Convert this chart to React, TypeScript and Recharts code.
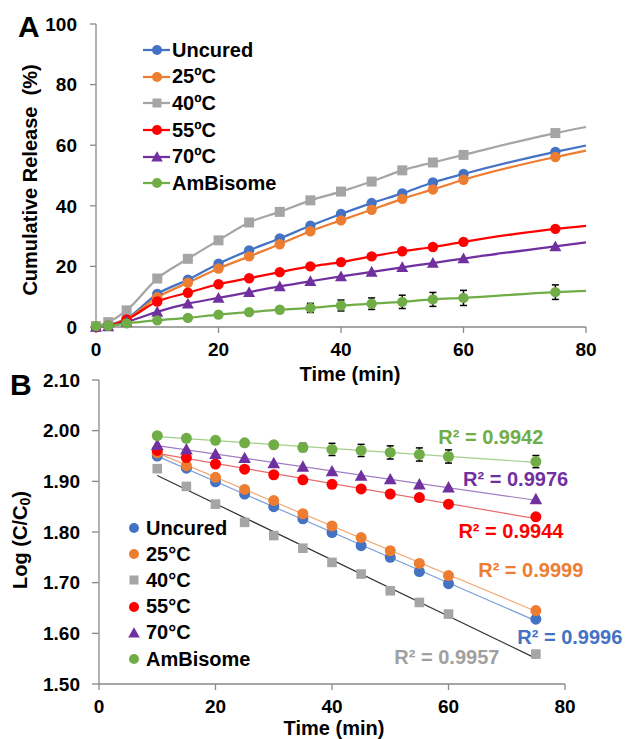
import React from "react";
import {
  ComposedChart,
  Line,
  Scatter,
  XAxis,
  YAxis,
  ErrorBar,
  Legend,
  Label,
  ReferenceLine,
  ReferenceDot,
} from "recharts";

const FONT = "'Liberation Sans', Arial, sans-serif";

// ---- panel A: cumulative release (%) ----
const timesA = [0, 2, 5, 10, 15, 20, 25, 30, 35, 40, 45, 50, 55, 60, 75, 80];
const uncuredA = [0, 0.6, 2.8, 10.9, 15.6, 20.9, 25.3, 29.2, 33.4, 37.3, 40.9, 44.1, 47.7, 50.5, 57.8, 59.9];
const c25A = [0, 0.5, 2.6, 9.8, 14.6, 19.3, 23.3, 27.3, 31.6, 35.2, 38.7, 42.3, 45.4, 48.6, 56.1, 58.2];
const c40A = [0.3, 1.6, 5.5, 16.0, 22.5, 28.6, 34.5, 38.0, 41.8, 44.7, 48.0, 51.7, 54.3, 56.8, 64.0, 66.0];
const c55A = [0, 0.4, 2.5, 8.4, 11.3, 14.1, 16.1, 18.1, 20.0, 21.4, 23.3, 25.0, 26.4, 28.1, 32.4, 33.4];
const c70A = [0, 0.2, 1.7, 5.0, 7.7, 9.6, 11.5, 13.4, 15.1, 16.7, 18.2, 19.7, 21.1, 22.6, 26.6, 27.9];
const ambisomeA = [0.3, 0.4, 1.2, 2.2, 3.0, 4.1, 4.9, 5.7, 6.3, 7.1, 7.7, 8.3, 9.1, 9.6, 11.5, 11.9];
const ambisomeErrA = [0.3, 0.3, 0.4, 0.5, 0.6, 0.7, 0.8, 1.0, 1.5, 1.8, 1.9, 2.2, 2.3, 2.5, 2.4, null];
const xTicksA = [0, 20, 40, 60, 80];
const yTicksA = [0, 20, 40, 60, 80, 100];

// ---- panel B: log (C/C0) ----
const timesB = [10, 15, 20, 25, 30, 35, 40, 45, 50, 55, 60, 75];
const uncuredB = [1.950, 1.926, 1.899, 1.875, 1.850, 1.826, 1.799, 1.773, 1.750, 1.722, 1.698, 1.628];
const c25B = [1.956, 1.931, 1.908, 1.884, 1.862, 1.836, 1.812, 1.789, 1.763, 1.738, 1.714, 1.645];
const c40B = [1.925, 1.890, 1.855, 1.819, 1.793, 1.768, 1.740, 1.717, 1.684, 1.661, 1.638, 1.559];
const c55B = [1.961, 1.947, 1.934, 1.924, 1.913, 1.903, 1.894, 1.885, 1.875, 1.868, 1.855, 1.830];
const c70B = [1.972, 1.963, 1.954, 1.946, 1.936, 1.929, 1.920, 1.911, 1.904, 1.894, 1.888, 1.865];
const ambisomeB = [1.990, 1.985, 1.981, 1.976, 1.972, 1.967, 1.963, 1.961, 1.957, 1.953, 1.949, 1.939];
const ambisomeErrB = [0.003, 0.003, 0.003, 0.004, 0.004, 0.008, 0.012, 0.012, 0.013, 0.013, 0.013, 0.012];
const r2B = ["R² = 0.9996", "R² = 0.9999", "R² = 0.9957", "R² = 0.9944", "R² = 0.9976", "R² = 0.9942"];
// where each R² text starts (time, log value)
const r2PosX = [71.8, 65.1, 50.7, 61.7, 62.5, 58.25];
const r2PosY = [1.593, 1.725, 1.554, 1.802, 1.905, 1.988];
const xTicksB = [0, 20, 40, 60, 80];
const yTicksB = [1.5, 1.6, 1.7, 1.8, 1.9, 2.0, 2.1];

type Shape = "circle" | "square" | "triangle";

const seriesA = [
  { key: "uncured", name: "Uncured", color: "#4472C4", shape: "circle" as Shape, values: uncuredA },
  { key: "c25", name: "25ºC", color: "#ED7D31", shape: "circle" as Shape, values: c25A },
  { key: "c40", name: "40ºC", color: "#A5A5A5", shape: "square" as Shape, values: c40A },
  { key: "c55", name: "55ºC", color: "#FF0000", shape: "circle" as Shape, values: c55A },
  { key: "c70", name: "70ºC", color: "#7030A0", shape: "triangle" as Shape, values: c70A },
  { key: "amb", name: "AmBisome", color: "#70AD47", shape: "circle" as Shape, values: ambisomeA },
];

const seriesB = [
  { key: "uncured", name: "Uncured", color: "#4472C4", text: "#4472C4", trend: "#7fa0dc", shape: "circle" as Shape, values: uncuredB },
  { key: "c25", name: "25°C", color: "#ED7D31", text: "#ED7D31", trend: "#f2a872", shape: "circle" as Shape, values: c25B },
  { key: "c40", name: "40°C", color: "#A5A5A5", text: "#A0A0A0", trend: "#333333", shape: "square" as Shape, values: c40B },
  { key: "c55", name: "55°C", color: "#FF0000", text: "#FF0000", trend: "#e86a6a", shape: "circle" as Shape, values: c55B },
  { key: "c70", name: "70°C", color: "#7030A0", text: "#7030A0", trend: "#a07cc4", shape: "triangle" as Shape, values: c70B },
  { key: "amb", name: "AmBisome", color: "#70AD47", text: "#70AD47", trend: "#a3cf88", shape: "circle" as Shape, values: ambisomeB },
];

const rowsA = timesA.map((t, i) => {
  const row: Record<string, number | null> = { t, ambErr: ambisomeErrA[i] };
  seriesA.forEach((s) => (row[s.key] = s.values[i]));
  return row;
});

// least squares fit, like the Excel trendline
function fit(xs: number[], ys: number[]) {
  const n = xs.length;
  const mx = xs.reduce((a, b) => a + b, 0) / n;
  const my = ys.reduce((a, b) => a + b, 0) / n;
  let sxy = 0;
  let sxx = 0;
  xs.forEach((x, i) => {
    sxy += (x - mx) * (ys[i] - my);
    sxx += (x - mx) * (x - mx);
  });
  const slope = sxy / sxx;
  return (x: number) => my + slope * (x - mx);
}

function Marker({ shape, cx, cy, size, color }: { shape: Shape; cx: number; cy: number; size: number; color: string }) {
  if (shape === "square") {
    return <rect x={cx - size} y={cy - size} width={size * 2} height={size * 2} fill={color} />;
  }
  if (shape === "triangle") {
    const h = size * 1.15;
    return <polygon points={`${cx},${cy - h} ${cx - h},${cy + h * 0.8} ${cx + h},${cy + h * 0.8}`} fill={color} />;
  }
  return <circle cx={cx} cy={cy} r={size} fill={color} />;
}

const dotA = (shape: Shape, color: string) => (props: any) => {
  const { cx, cy, payload, index } = props;
  if (cx == null || cy == null || payload.t > 75) return <g key={`d-${index}`} />;
  return (
    <g key={`d-${index}`}>
      <Marker shape={shape} cx={cx} cy={cy} size={shape === "square" ? 5 : 5.2} color={color} />
    </g>
  );
};

const shapeB = (shape: Shape, color: string) => (props: any) => {
  const { cx, cy } = props;
  if (cx == null || cy == null) return <g />;
  return <Marker shape={shape} cx={cx} cy={cy} size={shape === "square" ? 4.8 : 5.5} color={color} />;
};

const tickStyle = { fill: "#000", fontSize: 19, fontWeight: 700, fontFamily: FONT };
const axisLine = { stroke: "#898989", strokeWidth: 1.3 };
const titleStyle = { fontSize: 20, fontWeight: 700, fontFamily: FONT, fill: "#000" };

const legendA = () => (
  <div style={{ fontFamily: FONT, fontWeight: 700, fontSize: 20, color: "#000" }}>
    {seriesA.map((s) => (
      <div key={s.key} style={{ display: "flex", alignItems: "center", height: 26.6 }}>
        <svg width={29} height={20}>
          <line x1={0} y1={10} x2={27} y2={10} stroke={s.color} strokeWidth={2.25} />
          <Marker shape={s.shape} cx={14} cy={10} size={s.shape === "square" ? 4.5 : 5} color={s.color} />
        </svg>
        <span>{s.name}</span>
      </div>
    ))}
  </div>
);

const legendB = () => (
  <div style={{ fontFamily: FONT, fontWeight: 700, fontSize: 20, color: "#000" }}>
    {seriesB.map((s) => (
      <div key={s.key} style={{ display: "flex", alignItems: "center", height: 26.2 }}>
        <svg width={12} height={20} style={{ marginRight: 6 }}>
          <Marker shape={s.shape} cx={6} cy={10} size={s.shape === "square" ? 4.5 : 5} color={s.color} />
        </svg>
        <span>{s.name}</span>
      </div>
    ))}
  </div>
);

function PanelA() {
  return (
    <ComposedChart width={629} height={385} data={rowsA} margin={{ top: 24, right: 43, bottom: 0, left: 0 }}>
      <XAxis
        dataKey="t"
        type="number"
        domain={[0, 80]}
        ticks={xTicksA}
        height={58}
        tick={tickStyle}
        tickSize={6}
        tickMargin={10}
        axisLine={axisLine}
        tickLine={axisLine}
      >
        <Label
          content={() => (
            <text x={350} y={374} textAnchor="middle" dominantBaseline="central" style={titleStyle}>
              Time (min)
            </text>
          )}
        />
      </XAxis>
      <YAxis
        type="number"
        domain={[0, 100]}
        ticks={yTicksA}
        width={96}
        tick={tickStyle}
        tickSize={6}
        tickMargin={13}
        axisLine={axisLine}
        tickLine={axisLine}
      >
        <Label
          content={() => (
            <g>
              <text x={18} y={37} style={{ fontSize: 30, fontWeight: 700, fontFamily: FONT, fill: "#000" }}>
                A
              </text>
              <text
                x={30}
                y={180}
                transform="rotate(-90 30 180)"
                textAnchor="middle"
                dominantBaseline="central"
                style={{ ...titleStyle, whiteSpace: "pre" }}
              >
                Cumulative Release  (%)
              </text>
            </g>
          )}
        />
      </YAxis>
      <Legend
        content={legendA}
        layout="vertical"
        align="center"
        verticalAlign="middle"
        wrapperStyle={{ left: 143, top: 37, width: "auto", height: "auto" }}
      />
      {seriesA.map((s) => (
        <Line
          key={s.key}
          dataKey={s.key}
          name={s.name}
          type="monotone"
          stroke={s.color}
          strokeWidth={2.25}
          dot={dotA(s.shape, s.color)}
          activeDot={false}
          isAnimationActive={false}
        >
          {s.key === "amb" && (
            <ErrorBar dataKey="ambErr" direction="y" width={3.5} stroke="#000" strokeWidth={1.5} />
          )}
        </Line>
      ))}
    </ComposedChart>
  );
}

function PanelB() {
  return (
    <ComposedChart width={629} height={384} margin={{ top: 25, right: 64, bottom: 0, left: 0 }}>
      <XAxis
        dataKey="t"
        type="number"
        domain={[0, 80]}
        ticks={xTicksB}
        height={55}
        tick={tickStyle}
        tickSize={6}
        tickMargin={10}
        axisLine={axisLine}
        tickLine={axisLine}
      >
        <Label
          content={() => (
            <text x={334} y={373} textAnchor="middle" dominantBaseline="central" style={titleStyle}>
              Time (min)
            </text>
          )}
        />
      </XAxis>
      <YAxis
        dataKey="v"
        type="number"
        domain={[1.5, 2.1]}
        ticks={yTicksB}
        tickFormatter={(v: number) => v.toFixed(2)}
        width={99}
        tick={tickStyle}
        tickSize={7}
        tickMargin={12}
        axisLine={axisLine}
        tickLine={axisLine}
      >
        <Label
          content={() => (
            <g>
              <text x={10} y={40} style={{ fontSize: 30, fontWeight: 700, fontFamily: FONT, fill: "#000" }}>
                B
              </text>
              <text
                x={20}
                y={185}
                transform="rotate(-90 20 185)"
                textAnchor="middle"
                dominantBaseline="central"
                style={titleStyle}
              >
                Log (C/C
                <tspan fontSize={14} dy={5}>
                  0
                </tspan>
                <tspan dy={-5}>)</tspan>
              </text>
            </g>
          )}
        />
      </YAxis>
      <Legend
        content={legendB}
        layout="vertical"
        align="center"
        verticalAlign="middle"
        wrapperStyle={{ left: 128, top: 160, width: "auto", height: "auto" }}
      />
      {seriesB.map((s) => {
        const f = fit(timesB, s.values);
        const x0 = timesB[0];
        const x1 = timesB[timesB.length - 1];
        return (
          <ReferenceLine
            key={`trend-${s.key}`}
            segment={[
              { x: x0, y: f(x0) },
              { x: x1, y: f(x1) },
            ]}
            stroke={s.trend}
            strokeWidth={1.2}
          />
        );
      })}
      {seriesB.map((s) => (
        <Scatter
          key={s.key}
          name={s.name}
          data={timesB.map((t, i) => ({
            t,
            v: s.values[i],
            err: s.key === "amb" ? ambisomeErrB[i] : null,
          }))}
          fill={s.color}
          shape={shapeB(s.shape, s.color)}
          isAnimationActive={false}
        >
          {s.key === "amb" && <ErrorBar dataKey="err" direction="y" width={3.5} stroke="#000" strokeWidth={1.5} />}
        </Scatter>
      ))}
      {seriesB.map((s, i) => (
        <ReferenceDot
          key={`r2-${s.key}`}
          x={r2PosX[i]}
          y={r2PosY[i]}
          r={0}
          stroke="none"
          fill="none"
          label={{
            value: r2B[i],
            position: "right",
            offset: 0,
            fill: s.text,
            fontSize: 20,
            fontWeight: 700,
            fontFamily: FONT,
          }}
        />
      ))}
    </ComposedChart>
  );
}

export default function App() {
  return (
    <div style={{ position: "absolute", left: 0, top: 0, width: 629, height: 739, background: "#fff", fontFamily: FONT }}>
      <div style={{ position: "absolute", left: 0, top: 0 }}>
        <PanelA />
      </div>
      <div style={{ position: "absolute", left: 0, top: 355 }}>
        <PanelB />
      </div>
    </div>
  );
}
